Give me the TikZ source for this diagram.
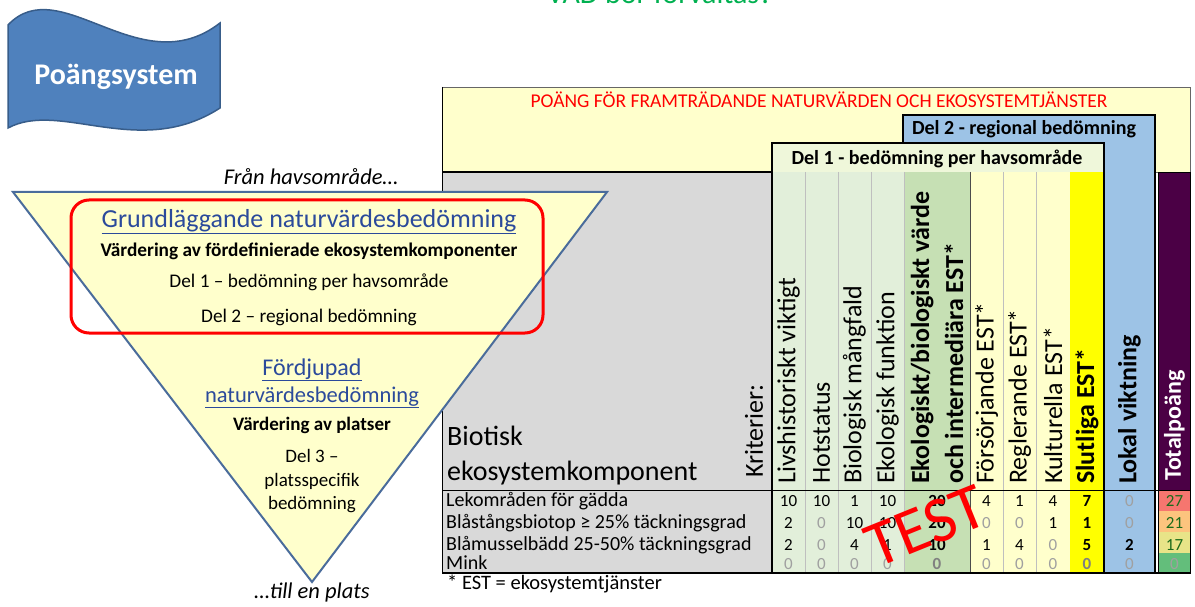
\documentclass[tikz,border=0pt]{standalone}
\usepackage{fontspec}
\setmainfont{Carlito}
\usetikzlibrary{positioning,calc}

\definecolor{flagblue}{HTML}{4F81BD}
\definecolor{flagedge}{HTML}{385D8A}
\definecolor{vadgreen}{HTML}{00B050}
\definecolor{paleyellow}{HTML}{FFFFCC}
\definecolor{triedge}{HTML}{4A6C9B}
\definecolor{headblue}{HTML}{2B4A9B}
\definecolor{delblue}{HTML}{9DC3E6}
\definecolor{delgreen}{HTML}{EFF7DA}
\definecolor{critgreen}{HTML}{E2EFDA}
\definecolor{ekogreen}{HTML}{C6E0B4}
\definecolor{slutyellow}{HTML}{FFFF00}
\definecolor{sheetgray}{HTML}{D9D9D9}
\definecolor{totpurple}{HTML}{4B0045}
\definecolor{sepgray}{HTML}{BFBFBF}
\definecolor{numgray}{HTML}{A0A0A0}
\definecolor{boldgray}{HTML}{808080}
\definecolor{totgreen}{HTML}{1B6B1B}
\definecolor{totred}{HTML}{F6766F}
\definecolor{totorange}{HTML}{FCC47E}
\definecolor{totkhaki}{HTML}{E8E488}
\definecolor{totlime}{HTML}{63BE7B}

\newcommand{\fsz}[1]{\fontsize{#1}{#1}\selectfont}
\newcommand{\nz}[1]{\textcolor{numgray}{#1}}
\newcommand{\nbold}[1]{\textbf{#1}}
\newcommand{\nbz}[1]{\textcolor{boldgray}{\textbf{#1}}}
\newcommand{\ntot}[1]{\textcolor{totgreen}{#1}}

\tikzset{
  txt/.style={
    inner sep=0pt,
    anchor=base
  },
  tri text/.style={
    txt,
    font=\fsz{19.3}
  },
  tri head/.style={
    txt,
    font=\fsz{24},
    text=headblue
  },
  crit/.style={
    rotate=90,
    anchor=west,
    inner sep=0pt,
    font=\fsz{26}
  },
  crit bold/.style={
    crit,
    font=\fsz{26}\bfseries
  },
  cell/.style={
    inner sep=0pt,
    anchor=base,
    font=\fsz{17}
  },
  row label/.style={
    inner sep=0pt,
    anchor=base west,
    font=\fsz{20}
  },
  col sep/.style={
    draw=sepgray,
    line width=0.8pt
  },
  boxframe/.style={
    draw=black,
    line width=1.4pt
  }
}

\begin{document}
\begin{tikzpicture}[x=1pt,y=-1pt]
\useasboundingbox (0,0) rectangle (1195,607);

% heading, cut by the top of the page
\node[txt, font=\fsz{30}, text=vadgreen] (vad) at (660,4) {VAD bör förvaltas?};

% banner
\draw[draw=flagedge, line width=1.5pt, fill=flagblue]
  (8,25) .. controls (60,-30) and (140,85) .. (220,23) -- (220,108)
  .. controls (140,160) and (60,100) .. (8,128) -- cycle;
\node[txt, font=\fsz{30}\bfseries, text=white] (banner) at (116,85) {Poängsystem};

% sheet
\draw[draw=black!60, fill=paleyellow] (442,87) rectangle (1190,172);
\node[txt, font=\fsz{19.5}, text=red] (poang) at (819,108)
  {POÄNG FÖR FRAMTRÄDANDE NATURVÄRDEN OCH EKOSYSTEMTJÄNSTER};
\fill[sheetgray] (442,172) rectangle (772,573);
\draw[boxframe, fill=delblue] (903,115) rectangle (1155,573);
\draw[boxframe, fill=delgreen] (772,143) rectangle (1104,573);
\fill[critgreen] (772,172) rectangle (904,573);
\fill[ekogreen] (904,172) rectangle (970,573);
\fill[paleyellow] (970,172) rectangle (1070,573);
\fill[slutyellow] (1070,172) rectangle (1104,573);
\foreach \x in {805,838,871,904,1003,1036}
  \draw[col sep] (\x,172) -- (\x,573);
\draw[black!70] (970,172) -- (970,573);
\draw[boxframe] (772,143) rectangle (1104,573);
\fill[totpurple] (1158,172) rectangle (1190,490);
\fill[totred] (1158,490) rectangle (1190,511);
\fill[totorange] (1158,511) rectangle (1190,532);
\fill[totkhaki] (1158,532) rectangle (1190,553);
\fill[totlime] (1158,553) rectangle (1190,573);
\draw[black] (1158,172) rectangle (1190,573);
\draw[black, line width=0.8pt] (442,490) -- (1190,490);
\draw[black, line width=2pt] (442,172) -- (772,172);
\draw[black, line width=2.2pt] (442,573) -- (1190,573);
\draw[black, line width=1pt] (442,87) -- (442,573);

\node[txt, font=\fsz{20}\bfseries] (del2head) at (1024,135) {Del 2 - regional bedömning};
\node[txt, font=\fsz{20}\bfseries] (del1head) at (937,165) {Del 1 - bedömning per havsområde};
\node[row label, font=\fsz{28}] (biotisk) at (447,445) {Biotisk};
\node[row label, font=\fsz{28}] (ekokomp) at (447,480) {ekosystemkomponent};
\node[crit] (krit) at (754,478) {Kriterier:};

% column centres and row baselines
\foreach \c/\x in {1/788.5,2/821.5,3/854.5,4/887.5,5/937,6/986.5,7/1019.5,8/1053,9/1087,10/1129.5,11/1174.5}
  \coordinate (col\c) at (\x,0);
\foreach \r/\y in {1/506,2/528,3/550,4/569}
  \coordinate (row\r) at (446,\y);
\coordinate (hdrbase) at (0,484);

\node[crit] (h1) at (col1 |- hdrbase) {Livshistoriskt viktigt};
\node[crit] (h2) at (col2 |- hdrbase) {Hotstatus};
\node[crit] (h3) at (col3 |- hdrbase) {Biologisk mångfald};
\node[crit] (h4) at (col4 |- hdrbase) {Ekologisk funktion};
\node[crit bold, align=left, font=\fontsize{26}{34}\selectfont\bfseries] (h5) at (col5 |- hdrbase)
  {Ekologiskt/biologiskt värde\\och intermediära EST*};
\node[crit] (h6) at (col6 |- hdrbase) {Försörjande EST*};
\node[crit] (h7) at (col7 |- hdrbase) {Reglerande EST*};
\node[crit] (h8) at (col8 |- hdrbase) {Kulturella EST*};
\node[crit bold] (h9) at (col9 |- hdrbase) {Slutliga EST*};
\node[crit bold] (h10) at (col10 |- hdrbase) {Lokal viktning};
\node[crit bold, text=white, font=\fsz{24}\bfseries] (h11) at (col11 |- 0,481) {Totalpoäng};

% rows
\node[row label] (lbl1) at (row1) {Lekområden för gädda};
\node[row label] (lbl2) at (row2) {Blåstångsbiotop ≥ 25\% täckningsgrad};
\node[row label] (lbl3) at (row3) {Blåmusselbädd 25-50\% täckningsgrad};
\node[row label] (lbl4) at (row4) {Mink};
\foreach \v [count=\c] in {10,10,1,10,\nbold{20},4,1,4,\nbold{7},\nz{0},\ntot{27}}
  \node[cell] (cell1-\c) at (col\c |- row1) {\v};
\foreach \v [count=\c] in {2,\nz{0},10,10,\nbold{20},\nz{0},\nz{0},1,\nbold{1},\nz{0},\ntot{21}}
  \node[cell] (cell2-\c) at (col\c |- row2) {\v};
\foreach \v [count=\c] in {2,\nz{0},4,1,\nbold{10},1,4,\nz{0},\nbold{5},\nbold{2},\ntot{17}}
  \node[cell] (cell3-\c) at (col\c |- row3) {\v};
\foreach \v [count=\c] in {\nz{0},\nz{0},\nz{0},\nz{0},\nbz{0},\nz{0},\nz{0},\nz{0},\nbz{0},\nz{0},\nz{0}}
  \node[cell] (cell4-\c) at (col\c |- row4) {\v};
\node[row label, font=\fsz{20.5}] (note) at (447,589) {* EST = ekosystemtjänster};

% stamp
\node[rotate=22, inner sep=0pt, font=\fsz{65}, text=red] (stamp) at (926,526) {TEST};

% funnel
\draw[draw=triedge, line width=2pt, fill=paleyellow] (13,192) -- (607,192) -- (312,582) -- cycle;
\draw[red, line width=3pt, rounded corners=18pt] (71,200) rectangle (543,333);
\node[txt, font=\fsz{22.5}\itshape] (fran) at (311,185) {Från havsområde…};
\node[tri head, font=\fsz{26}] (grund) at (309,227) {\underline{Grundläggande naturvärdesbedömning}};
\node[tri text, font=\fsz{19.3}\bfseries] (vardfor) at (309,256) {Värdering av fördefinierade ekosystemkomponenter};
\node[tri text] (del1) at (309,287) {Del 1 – bedömning per havsområde};
\node[tri text] (del2) at (309,322) {Del 2 – regional bedömning};
\node[tri head] (fordj) at (312,375) {\underline{Fördjupad}};
\node[tri head, font=\fsz{22.5}] (natur) at (312,402) {\underline{naturvärdesbedömning}};
\node[tri text, font=\fsz{19}\bfseries] (vardpl) at (312,430) {Värdering av platser};
\node[tri text, font=\fsz{19}] (del3a) at (312,462) {Del 3 –};
\node[tri text, font=\fsz{19}] (del3b) at (312,486) {platsspecifik};
\node[tri text, font=\fsz{19}] (del3c) at (312,509) {bedömning};
\node[txt, font=\fsz{22.5}\itshape] (tillen) at (312,598) {…till en plats};
\end{tikzpicture}
\end{document}
